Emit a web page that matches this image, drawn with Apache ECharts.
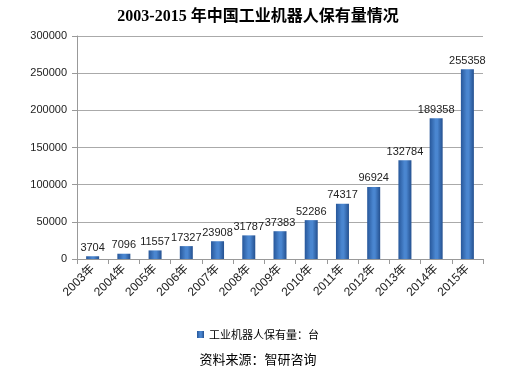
<!DOCTYPE html>
<html><head><meta charset="utf-8">
<script src="https://cdn.jsdelivr.net/npm/echarts@6/dist/echarts.min.js"></script>
<style>html,body{margin:0;padding:0;background:#fff}#c{width:516px;height:374px}</style>
</head><body><div id="c"></div>
<script>
var categories = ['2003年','2004年','2005年','2006年','2007年','2008年','2009年','2010年','2011年','2012年','2013年','2014年','2015年'];
var values = [3704,7096,11557,17327,23908,31787,37383,52286,74317,96924,132784,189358,255358];
var seriesName = '工业机器人保有量：台';
var chart = echarts.init(document.getElementById('c'));
var barColor = new echarts.graphic.LinearGradient(0,0,1,0,[
  {offset:0,color:'#27579a'},{offset:0.45,color:'#4a86d0'},{offset:0.6,color:'#4a86d0'},{offset:1,color:'#24508f'}]);
chart.setOption({
  animation:false,
  title:[{text:'2003-2015 年中国工业机器人保有量情况',left:'center',top:4,
    textStyle:{fontFamily:'Liberation Serif, Noto Sans CJK SC',fontWeight:'bold',fontSize:16,color:'#000'}},
    {text:'资料来源：智研咨询',left:'center',top:348,
    textStyle:{fontFamily:'Noto Sans CJK SC',fontWeight:'normal',fontSize:13,color:'#000'}}],
  legend:{data:[seriesName],left:'center',top:324,itemWidth:7,itemHeight:7,icon:'rect',
    textStyle:{fontFamily:'Noto Sans CJK SC',fontSize:11,color:'#000'}},
  grid:{left:77,right:33,top:36,bottom:115},
  xAxis:{type:'category',data:categories,
    axisLine:{lineStyle:{color:'#999'}},axisTick:{show:true,alignWithLabel:false,lineStyle:{color:'#999'}},
    axisLabel:{rotate:45,fontSize:12,color:'#222',fontFamily:'Liberation Sans Narrow, Liberation Sans, Noto Sans CJK SC',interval:0,margin:8}},
  yAxis:{type:'value',min:0,max:300000,interval:50000,
    axisLine:{show:true,lineStyle:{color:'#999'}},axisTick:{show:true,lineStyle:{color:'#999'}},
    splitLine:{lineStyle:{color:'#aaa',width:1}},
    axisLabel:{fontSize:11,color:'#222',fontFamily:'Liberation Sans',margin:10,formatter:function(v){return String(v);}}},
  series:[{name:seriesName,type:'bar',data:values,barWidth:13,
    itemStyle:{color:barColor},
    label:{show:true,position:'top',fontSize:11,color:'#222',fontFamily:'Liberation Sans',distance:3}}]
});
</script></body></html>
